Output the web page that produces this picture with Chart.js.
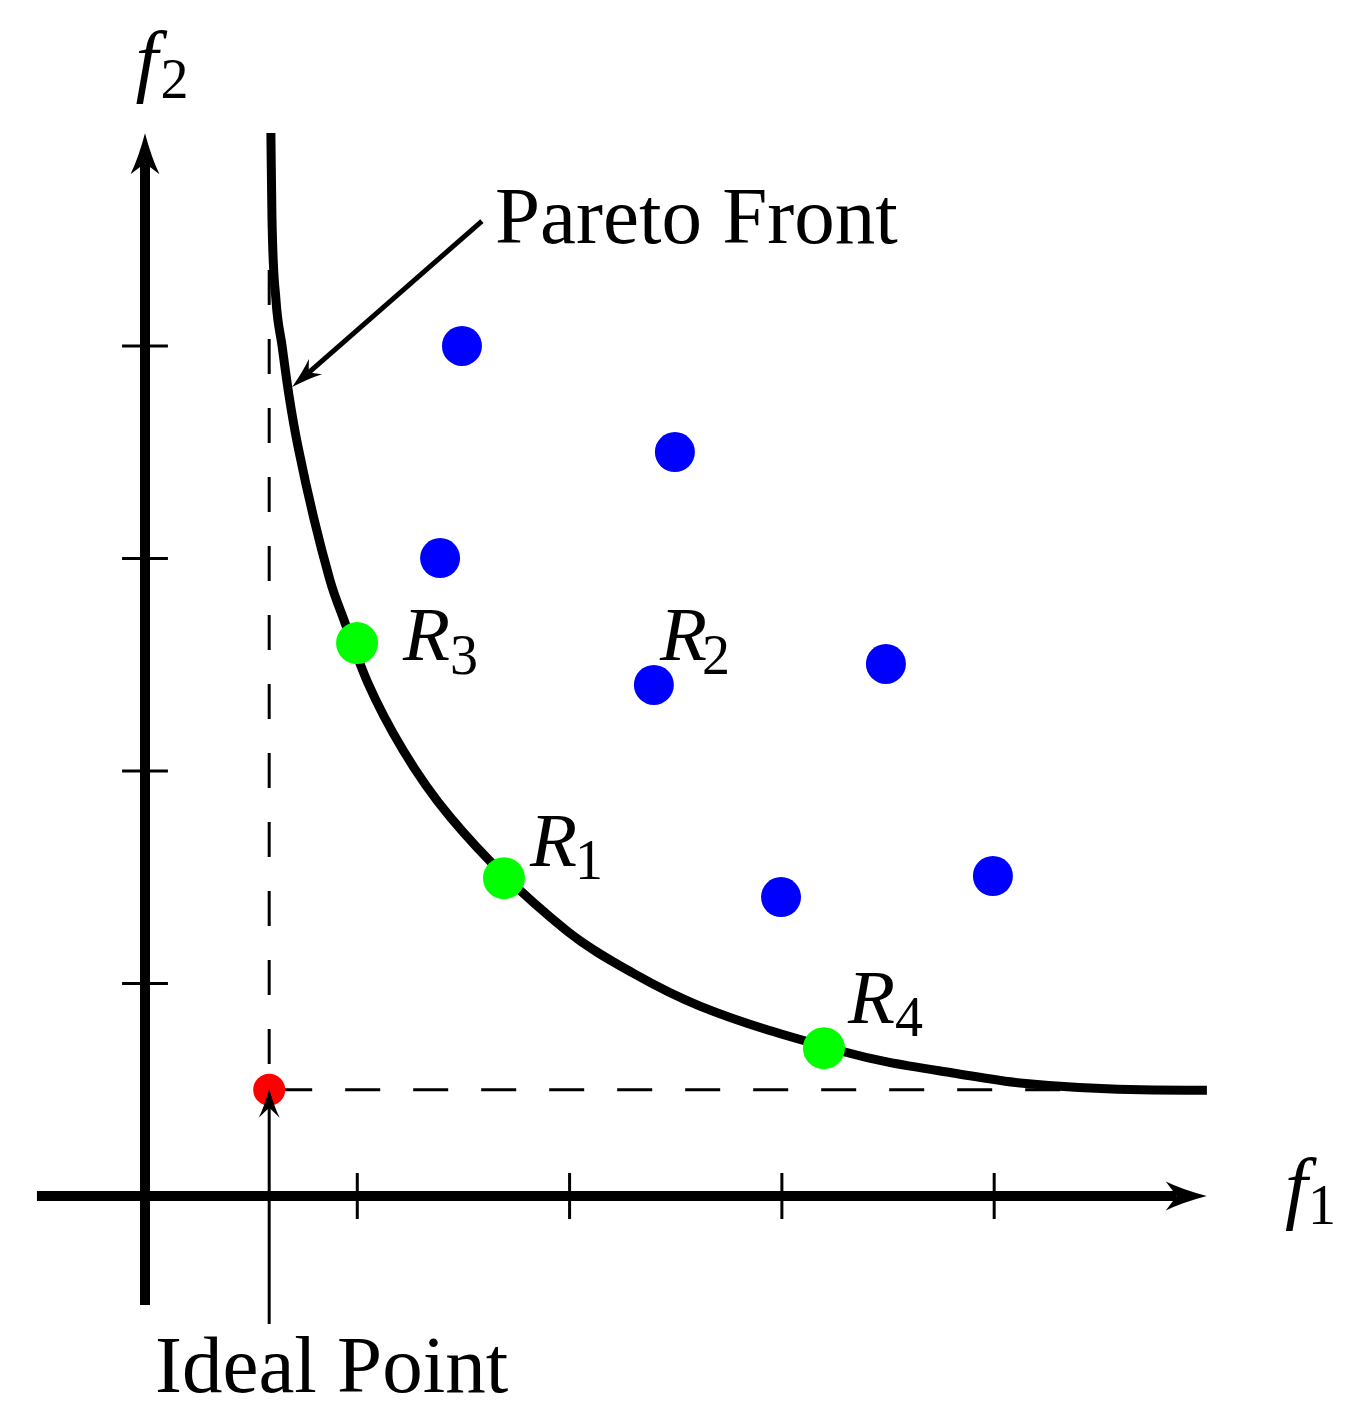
<!DOCTYPE html>
<html lang="en">

<head>
  <meta charset="UTF-8" />
  <title>Pareto Front</title>
  <script src="https://cdn.jsdelivr.net/npm/chart.js"></script>
  <style>
    html, body { margin: 0; padding: 0; background: #fff; }
    canvas { display: block; }
  </style>
</head>

<body>
  <canvas id="paretoChart" width="1371" height="1426"></canvas>

  <script>
    // values (data units, one tick = 1)
    var xTicks = [1, 2, 3, 4];
    var yTicks = [1, 2, 3, 4];

    var frontX = [0.593, 0.598, 0.617, 0.645, 0.678, 0.721, 0.871, 0.937, 1.050, 1.215, 1.437, 1.988, 2.299, 2.614, 3.297, 3.495, 3.806, 4.122, 4.748, 5.002];
    var frontY = [5.002, 4.607, 4.216, 4.005, 3.769, 3.525, 2.899, 2.711, 2.414, 2.099, 1.784, 1.247, 1.049, 0.894, 0.678, 0.631, 0.579, 0.532, 0.499, 0.498];

    var blueX = [1.493, 2.496, 1.390, 2.397, 3.490, 2.996, 3.994];
    var blueY = [4.000, 3.501, 3.002, 2.405, 2.504, 1.407, 1.506];

    var greenNames = ['R1', 'R3', 'R4'];
    var greenX = [1.691, 0.999, 3.198];
    var greenY = [1.496, 2.602, 0.696];

    var idealX = 0.585;
    var idealY = 0.5;

    function pontos(xs, ys) {
      var out = [];
      for (var i = 0; i < xs.length; i++) {
        out.push({ x: xs[i], y: ys[i] });
      }
      return out;
    }

    // tick marks as short segments separated by gaps
    var tickData = [];
    for (var i = 0; i < xTicks.length; i++) {
      tickData.push({ x: xTicks[i], y: -0.108 }, { x: xTicks[i], y: 0.108 }, { x: xTicks[i], y: null });
    }
    for (var j = 0; j < yTicks.length; j++) {
      tickData.push({ x: -0.108, y: yTicks[j] }, { x: 0.108, y: yTicks[j] }, { x: 0.108, y: null });
    }

    var serif = '"Liberation Serif", "Times New Roman", serif';

    var textos = [
      { main: 'Pareto Front', x: 1.649, y: 4.485, font: '81px ' + serif },
      { main: 'Ideal Point', x: 0.047, y: -0.922, font: '81px ' + serif },
      { main: 'f', sub: '2', x: -0.045, y: 5.219, font: 'italic 81px ' + serif, subFont: '56px ' + serif, dx: 25, dy: 11 },
      { main: 'f', sub: '1', x: 5.37, y: -0.085, font: 'italic 81px ' + serif, subFont: '56px ' + serif, dx: 23, dy: 10 },
      { main: 'R', sub: '1', x: 1.813, y: 1.553, font: 'italic 77px ' + serif, subFont: '56px ' + serif, dx: 45, dy: 13 },
      { main: 'R', sub: '2', x: 2.426, y: 2.522, font: 'italic 77px ' + serif, subFont: '56px ' + serif, dx: 42, dy: 14 },
      { main: 'R', sub: '3', x: 1.215, y: 2.522, font: 'italic 77px ' + serif, subFont: '56px ' + serif, dx: 47, dy: 14 },
      { main: 'R', sub: '4', x: 3.311, y: 0.814, font: 'italic 77px ' + serif, subFont: '56px ' + serif, dx: 47, dy: 13 }
    ];

    // arrowheads at the end of datasets flagged with "arrow", plus the text
    var desenhos = {
      id: 'desenhos',
      afterDatasetsDraw: function (chart) {
        var ctx = chart.ctx;
        ctx.save();
        ctx.fillStyle = '#000';
        chart.data.datasets.forEach(function (ds, k) {
          if (!ds.arrow) return;
          var pts = chart.getDatasetMeta(k).data;
          var a = pts[pts.length - 2], b = pts[pts.length - 1];
          var dx = b.x - a.x, dy = b.y - a.y;
          var d = Math.sqrt(dx * dx + dy * dy);
          var ux = dx / d, uy = dy / d, nx = -uy, ny = ux;
          var ar = ds.arrow;
          var tx = b.x + ux * (ar.len - ar.notch), ty = b.y + uy * (ar.len - ar.notch);
          var bx = tx - ux * ar.len, by = ty - uy * ar.len;
          ctx.beginPath();
          ctx.moveTo(tx, ty);
          ctx.quadraticCurveTo(tx - ux * ar.len * 0.6 + nx * ar.half * 0.45, ty - uy * ar.len * 0.6 + ny * ar.half * 0.45, bx + nx * ar.half, by + ny * ar.half);
          ctx.lineTo(b.x, b.y);
          ctx.lineTo(bx - nx * ar.half, by - ny * ar.half);
          ctx.quadraticCurveTo(tx - ux * ar.len * 0.6 - nx * ar.half * 0.45, ty - uy * ar.len * 0.6 - ny * ar.half * 0.45, tx, ty);
          ctx.closePath();
          ctx.fill();
        });

        var xs = chart.scales.x, ys = chart.scales.y;
        ctx.textBaseline = 'alphabetic';
        ctx.textAlign = 'left';
        textos.forEach(function (t) {
          var px = xs.getPixelForValue(t.x);
          var py = ys.getPixelForValue(t.y);
          ctx.font = t.font;
          ctx.fillText(t.main, px, py);
          if (t.sub) {
            ctx.font = t.subFont;
            ctx.fillText(t.sub, px + t.dx, py + t.dy);
          }
        });
        ctx.restore();
      }
    };

    var linha = { showLine: true, pointRadius: 0, borderColor: '#000', fill: false };

    var datasets = [
      Object.assign({ label: 'ideal arrow', data: [{ x: idealX, y: -0.602 }, { x: idealX, y: 0.415 }], borderWidth: 3, order: 0,
        arrow: { len: 29, half: 10.5, notch: 10 } }, linha),
      Object.assign({ label: 'front arrow', data: [{ x: 1.587, y: 4.588 }, { x: 0.771, y: 3.875 }], borderWidth: 5, order: 1,
        arrow: { len: 31, half: 10, notch: 9 } }, linha),
      { label: 'ideal', data: [{ x: idealX, y: idealY }], pointRadius: 16, pointBackgroundColor: '#ff0000', pointBorderWidth: 0, order: 2 },
      { label: 'green', data: pontos(greenX, greenY), pointRadius: 21, pointBackgroundColor: '#00ff00', pointBorderWidth: 0, order: 3 },
      { label: 'blue', data: pontos(blueX, blueY), pointRadius: 20, pointBackgroundColor: '#0000ff', pointBorderWidth: 0, order: 4 },
      Object.assign({ label: 'front', data: pontos(frontX, frontY), borderWidth: 9, cubicInterpolationMode: 'monotone', order: 5 }, linha),
      Object.assign({ label: 'dash v', data: [{ x: idealX, y: 4.358 }, { x: idealX, y: idealY }], borderWidth: 3, borderDash: [35, 34], order: 6 }, linha),
      Object.assign({ label: 'dash h', data: [{ x: idealX, y: idealY }, { x: 4.99, y: idealY }], borderWidth: 3, borderDash: [35, 33], borderDashOffset: 60, order: 7 }, linha),
      Object.assign({ label: 'ticks', data: tickData, borderWidth: 3, spanGaps: false, order: 8 }, linha),
      Object.assign({ label: 'x axis', data: [{ x: -0.509, y: 0 }, { x: 4.86, y: 0 }], borderWidth: 10, order: 9,
        arrow: { len: 41, half: 14.5, notch: 11 } }, linha),
      Object.assign({ label: 'y axis', data: [{ x: 0, y: -0.513 }, { x: 0, y: 4.86 }], borderWidth: 10, order: 10,
        arrow: { len: 41, half: 14.5, notch: 11 } }, linha)
    ];

    var ctx = document.getElementById('paretoChart').getContext('2d');
    new Chart(ctx, {
      type: 'scatter',
      data: { datasets: datasets },
      options: {
        responsive: false,
        animation: false,
        events: [],
        layout: { padding: 0, autoPadding: false },
        plugins: { legend: { display: false }, tooltip: { enabled: false } },
        scales: {
          x: { type: 'linear', min: -0.683, max: 5.775, display: false },
          y: { type: 'linear', min: -1.082, max: 5.628, display: false }
        }
      },
      plugins: [desenhos]
    });
  </script>
</body>

</html>
